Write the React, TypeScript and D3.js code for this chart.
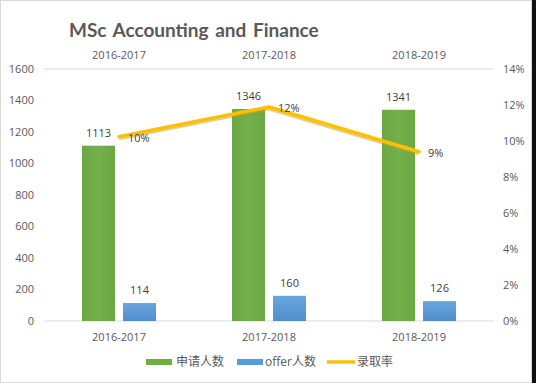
import React from "react";
import * as d3 from "d3";

const categories = ["2016-2017", "2017-2018", "2018-2019"];
const applicants = [1113, 1346, 1341];
const offers = [114, 160, 126];
const rates = [0.1024, 0.1189, 0.094];
const rateLabels = ["10%", "12%", "9%"];
const leftTicks = [0, 200, 400, 600, 800, 1000, 1200, 1400, 1600];
const rightTicks = [0, 0.02, 0.04, 0.06, 0.08, 0.1, 0.12, 0.14];
const seriesNames = ["申请人数", "offer人数", "录取率"];

const W = 536, H = 383;
const font = "'Open Sans', 'Noto Sans CJK SC', sans-serif";
const txt = "#595959";

export default function App() {
  const x = d3.scaleBand().domain(categories).range([44, 494]).paddingInner(0).paddingOuter(0);
  const y = d3.scaleLinear().domain([0, 1600]).range([321, 69]);
  const y2 = d3.scaleLinear().domain([0, 0.14]).range([321, 69]);
  const barW = 33, gap = 8;
  const line = d3.line<number>().x((_, i) => x(categories[i])! + x.bandwidth() / 2).y(d => y2(d));
  return (
    <svg width={W} height={H} style={{ position: "absolute", left: 0, top: 0 }} fontFamily={font}>
      <defs>
        <linearGradient id="gG" x1="0" x2="1" y1="0" y2="0">
          <stop offset="0" stopColor="#6aa843" />
          <stop offset="0.5" stopColor="#74b04b" />
          <stop offset="1" stopColor="#6aa843" />
        </linearGradient>
        <linearGradient id="gB" x1="0" x2="0" y1="0" y2="1">
          <stop offset="0" stopColor="#6aa5dd" />
          <stop offset="1" stopColor="#4f8fcc" />
        </linearGradient>
      </defs>
      <rect x={0} y={0} width={W} height={H} fill="#fff" />
      <rect x={0.5} y={0.5} width={W - 5} height={H - 1} fill="none" stroke="#d9d9d9" />
      <rect x={532} y={0} width={4} height={H} fill="#111" />
      <text x={69} y={37} fontSize={19} fontWeight="bold" fill={txt} fontFamily="Lato, sans-serif" wordSpacing={2}>MSc Accounting and Finance</text>
      {/* gridlines */}
      {[0, 1600].map(v => (
        <line key={v} x1={44} x2={494} y1={y(v)} y2={y(v)} stroke="#d9d9d9" strokeWidth={1} />
      ))}
      {/* left ticks */}
      {leftTicks.map(v => (
        <text key={v} x={34} y={y(v)} dy="0.35em" textAnchor="end" fontSize={11} fill={txt}>{v}</text>
      ))}
      {rightTicks.map(v => (
        <text key={v} x={503} y={y2(v)} dy="0.35em" fontSize={11} fill={txt}>{d3.format(".0%")(v)}</text>
      ))}
      {/* category labels */}
      {categories.map(c => (
        <g key={c}>
          <text x={x(c)! + x.bandwidth() / 2} y={55} dy="0.35em" textAnchor="middle" fontSize={11} fill={txt}>{c}</text>
          <text x={x(c)! + x.bandwidth() / 2} y={337} dy="0.35em" textAnchor="middle" fontSize={11} fill={txt}>{c}</text>
        </g>
      ))}
      {/* bars */}
      {categories.map((c, i) => {
        const cx = x(c)! + x.bandwidth() / 2;
        const gx = cx - gap / 2 - barW;
        const bx = cx + gap / 2;
        return (
          <g key={c}>
            <rect x={gx} y={y(applicants[i])} width={barW} height={y(0) - y(applicants[i])} fill="url(#gG)" />
            <rect x={bx} y={y(offers[i])} width={barW} height={y(0) - y(offers[i])} fill="url(#gB)" />
            <text x={gx + barW / 2} y={y(applicants[i]) - 13} dy="0.35em" textAnchor="middle" fontSize={11} fill="#404040">{applicants[i]}</text>
            <text x={bx + barW / 2} y={y(offers[i]) - 13} dy="0.35em" textAnchor="middle" fontSize={11} fill="#404040">{offers[i]}</text>
          </g>
        );
      })}
      {/* line */}
      <path d={line(rates)!} fill="none" stroke="#c9a227" strokeOpacity={0.5} strokeWidth={5} strokeLinejoin="round" transform="translate(0,1)" />
      <path d={line(rates)!} fill="none" stroke="#ffc000" strokeWidth={3.5} strokeLinejoin="round" strokeLinecap="round" />
      {rates.map((r, i) => (
        <text key={i} x={x(categories[i])! + x.bandwidth() / 2 + 9} y={y2(r) + 1} dy="0.35em" fontSize={11} fill="#404040">{rateLabels[i]}</text>
      ))}
      {/* legend */}
      <rect x={146} y={359} width={26} height={6} fill="#70ad47" />
      <text x={176} y={362} dy="0.35em" fontSize={12} fill={txt}>{seriesNames[0]}</text>
      <rect x={237} y={359} width={26} height={6} fill="#5b9bd5" />
      <text x={265} y={362} dy="0.35em" fontSize={12} fill={txt}>{seriesNames[1]}</text>
      <line x1={327} x2={355} y1={362} y2={362} stroke="#ffc000" strokeWidth={3.5} />
      <text x={357} y={362} dy="0.35em" fontSize={12} fill={txt}>{seriesNames[2]}</text>
    </svg>
  );
}
